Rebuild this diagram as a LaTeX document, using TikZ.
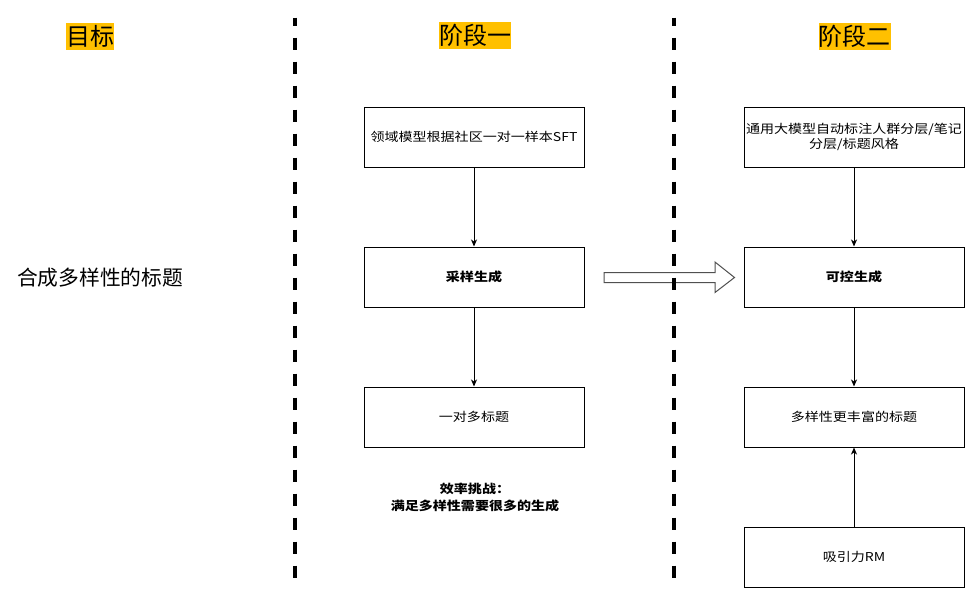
\documentclass[tikz,border=0pt]{standalone}
\usepackage{fontspec}
\setmainfont{Noto Sans CJK SC}
\newfontfamily\cjk{Noto Sans CJK SC}
\newfontfamily\boxfont[FakeStretch=1.15]{Noto Sans CJK SC}
\usetikzlibrary{arrows.meta}
\definecolor{hilite}{RGB}{255,192,0}
\definecolor{bigarrow}{RGB}{80,80,80}
\tikzset{
  stagebox/.style={draw=black, line width=1pt, fill=white, minimum width=220pt, minimum height=60pt, inner sep=2pt, align=center, font=\boxfont\fontsize{12.2pt}{15pt}\selectfont},
  header/.style={fill=hilite, inner sep=0pt, text height=22.5pt, text depth=4.5pt, font=\cjk\fontsize{24pt}{27pt}\selectfont},
  flow/.style={draw=black, line width=1pt, -{Stealth[length=7pt,width=6pt,inset=2pt]}},
  divider/.style={draw=black, line width=4pt, dash pattern=on 12pt off 12pt, dash phase=4pt},
  plain/.style={inner sep=0pt, align=center}
}
\begin{document}
\begin{tikzpicture}[x=1pt, y=-1pt]
\useasboundingbox[fill=white] (0,0) rectangle (980,603);

% headers
\node[header] (h0) at (90,36.5) {目标};
\node[header] (h1) at (475,35.5) {阶段一};
\node[header] (h2) at (854.5,36) {阶段二};

% goal text
\node[plain, font=\cjk\fontsize{20.75pt}{24pt}\selectfont] (goal) at (100,277.5) {合成多样性的标题};

% big hollow arrow
\draw[draw=bigarrow, line width=1pt, fill=white, line join=miter]
  (604,272.5) -- (715,272.5) -- (715,262) -- (734.5,277.5) -- (715,292.5) -- (715,282.5) -- (604,282.5) -- cycle;

% dividers
\coordinate (d1a) at (294.5,17.5);
\coordinate (d1b) at (294.5,577.5);
\coordinate (d2a) at (674.3,17.5);
\coordinate (d2b) at (674.3,577.5);
\draw[divider] (d1a) -- (d1b);
\draw[divider] (d2a) -- (d2b);

% stage 1
\node[stagebox] (a1) at (474,137) {领域模型根据社区一对一样本SFT};
\node[stagebox, font=\boxfont\bfseries\fontsize{12.2pt}{15pt}\selectfont] (a2) at (474,277) {采样生成};
\node[stagebox] (a3) at (474,417) {一对多标题};
\node[plain, font=\boxfont\bfseries\fontsize{12.2pt}{17pt}\selectfont] (note) at (475,497.5) {效率挑战：\\满足多样性需要很多的生成};

% stage 2
\node[stagebox] (b1) at (854,137) {通用大模型自动标注人群分层/笔记\\分层/标题风格};
\node[stagebox, font=\boxfont\bfseries\fontsize{12.2pt}{15pt}\selectfont] (b2) at (854,277) {可控生成};
\node[stagebox] (b3) at (854,417) {多样性更丰富的标题};
\node[stagebox] (b4) at (854,557) {吸引力RM};

% connectors
\draw[flow] (a1) -- (a2);
\draw[flow] (a2) -- (a3);
\draw[flow] (b1) -- (b2);
\draw[flow] (b2) -- (b3);
\draw[flow] (b4) -- (b3);
\end{tikzpicture}
\end{document}
